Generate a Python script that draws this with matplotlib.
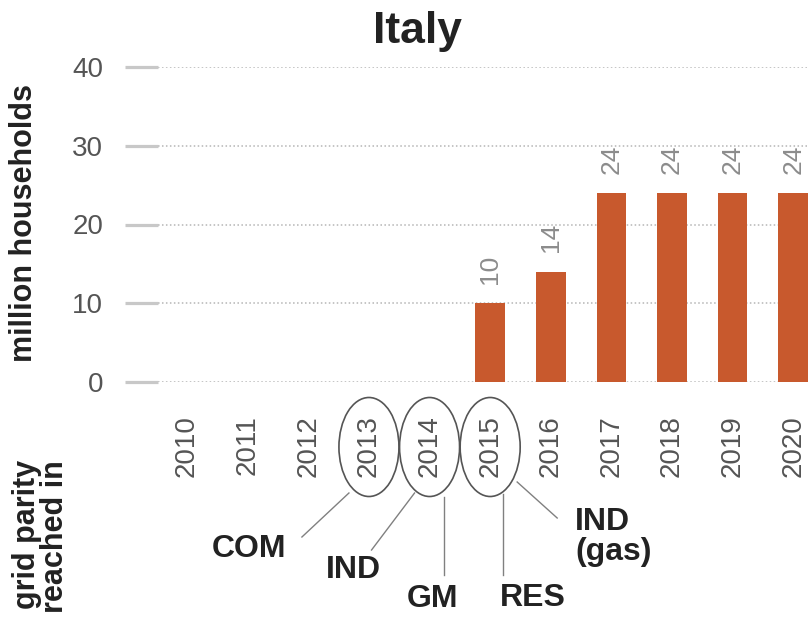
import matplotlib
matplotlib.use('Agg')
import matplotlib.pyplot as plt
from matplotlib.patches import Ellipse
from matplotlib.lines import Line2D
from matplotlib.transforms import blended_transform_factory

plt.rcParams['font.family'] = ['Liberation Sans', 'DejaVu Sans']

# ---- data ----
years = [2010, 2011, 2012, 2013, 2014, 2015, 2016, 2017, 2018, 2019, 2020]
households = [0, 0, 0, 0, 0, 10, 14, 24, 24, 24, 24]
y_ticks = [0, 10, 20, 30, 40]
title = "Italy"
y_label = "million households"
parity_label = "grid parity\nreached in"
parity_years = [2013, 2014, 2015]
parity_notes = ["COM", "IND", "GM", "RES", "IND\n(gas)"]
parity_note_years = [2013, 2014, 2014, 2015, 2015]

W, H = 809, 618
fig = plt.figure(figsize=(W / 100, H / 100), dpi=100)
ax_l, ax_r, ax_t, ax_b = 158, 809, 67, 382
ax = fig.add_axes([ax_l / W, 1 - ax_b / H, (ax_r - ax_l) / W, (ax_b - ax_t) / H])

bar_color = '#C8592D'
ax.bar(years, households, width=0.49, color=bar_color, zorder=3)
ax.set_xlim(2009.52, 2020.26)
ax.set_ylim(0, 40)

for yr, v in zip(years, households):
    if v > 0:
        ax.annotate(str(v), xy=(yr, v), xytext=(0, 14), textcoords='offset points',
                    rotation=90, ha='center', va='bottom', fontsize=19,
                    color='#8c8c8c', annotation_clip=False)

ax.set_yticks(y_ticks)
ax.set_xticks(years)
ax.set_xticklabels([str(y) for y in years], rotation=90)
ax.yaxis.grid(True, linestyle=(0, (1, 1.6)), color='#b5b5b5', linewidth=1.1)
ax.set_axisbelow(True)
for s in ax.spines.values():
    s.set_visible(False)
ax.tick_params(axis='y', direction='out', length=23.5, width=2.3, color='#c8c8c8',
               pad=16, labelsize=20, labelcolor='#555555')
ax.tick_params(axis='x', length=0, pad=24, labelsize=20, labelcolor='#555555')

# title and axis labels
fig.text(417 / W, 1 - 32 / H, title, ha='center', va='center', fontsize=32,
         fontweight='bold', color='#222222')
fig.text(24 / W, 1 - 223 / H, y_label, rotation=90, ha='center', va='center',
         fontsize=22, fontweight='bold', color='#222222')
fig.text(41 / W, 1 - 460 / H, parity_label, rotation=90, ha='center', va='top',
         multialignment='right', linespacing=0.9, fontsize=22,
         fontweight='bold', color='#222222')

# ---- grid parity annotations ----
tr = blended_transform_factory(ax.transData, ax.transAxes)
px_per_year = 60.6
px_per_axes = (ax_b - ax_t)


def dy(py):
    return (ax_b - py) / px_per_axes


for yr in parity_years:
    e = Ellipse((yr, dy(447)), width=60 / px_per_year, height=99 / px_per_axes,
                transform=tr, fill=False, edgecolor='#555555', linewidth=1.2,
                clip_on=False)
    ax.add_patch(e)

# leader lines: (start px offset from year centre, start y px, end px offset, end y px)
leader_geom = [(-20, 493, -67, 537), (-15, 493, -58, 550), (14, 497, 14, 575),
               (13, 494, 13, 575), (27, 482, 67, 518)]
text_geom = [(-120, 549, 'center', 'center'), (-76, 570, 'center', 'center'),
             (3, 599, 'center', 'center'), (43, 598, 'center', 'center'),
             (85, 507, 'left', 'top')]
for note, yr, lg, tg in zip(parity_notes, parity_note_years, leader_geom, text_geom):
    x0 = yr + lg[0] / px_per_year
    x1 = yr + lg[2] / px_per_year
    ax.add_line(Line2D([x0, x1], [dy(lg[1]), dy(lg[3])], transform=tr,
                       color='#808080', linewidth=1.0, clip_on=False))
    ax.text(yr + tg[0] / px_per_year, dy(tg[1]), note, transform=tr,
            ha=tg[2], va=tg[3], fontsize=23, fontweight='bold', color='#222222',
            linespacing=1.0, clip_on=False)

fig.savefig('out.png', dpi=100)
